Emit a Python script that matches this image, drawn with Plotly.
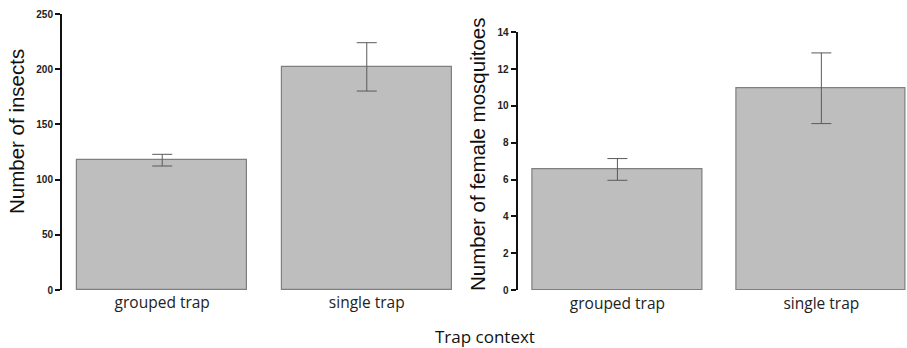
import plotly.graph_objects as go

categories = ["grouped trap", "single trap"]
insects_mean = [117.5, 202.0]
insects_err_plus = [5.4, 22.0]
insects_err_minus = [5.2, 21.8]
mosq_mean = [6.56, 10.94]
mosq_err_plus = [0.58, 1.94]
mosq_err_minus = [0.60, 1.90]
left_yticks = [0, 50, 100, 150, 200, 250]
right_yticks = [0, 2, 4, 6, 8, 10, 12, 14]

W, H = 907, 348
bar_fill = "#bebebe"
bar_line = "#7f7f7f"
err_col = "#5a5a5a"

fig = go.Figure()
fig.add_trace(go.Bar(
    x=[0, 1], y=insects_mean, width=0.83,
    marker=dict(color=bar_fill, line=dict(color=bar_line, width=1.2)),
    error_y=dict(type="data", array=insects_err_plus, arrayminus=insects_err_minus,
                 color=err_col, thickness=1, width=10),
    xaxis="x", yaxis="y", showlegend=False))
fig.add_trace(go.Bar(
    x=[0, 1], y=mosq_mean, width=0.83,
    marker=dict(color=bar_fill, line=dict(color=bar_line, width=1.2)),
    error_y=dict(type="data", array=mosq_err_plus, arrayminus=mosq_err_minus,
                 color=err_col, thickness=1, width=10),
    xaxis="x2", yaxis="y2", showlegend=False))

tickfont = dict(family="Liberation Sans", size=10, color="#222", weight="bold")
xfont = dict(family="Open Sans", size=15.5, color="#222")

fig.update_layout(
    template="none",
    width=W, height=H,
    margin=dict(l=0, r=0, t=0, b=0),
    paper_bgcolor="white", plot_bgcolor="white",
    bargap=0,
    xaxis=dict(domain=[62 / W, 467 / W], range=[-0.49, 1.49], automargin=False,
               tickvals=[0, 1], ticktext=categories, tickfont=xfont,
               showline=False, showgrid=False, zeroline=False, ticks="",
               ticklabelstandoff=1, anchor="y"),
    yaxis=dict(domain=[(H - 290) / H, (H - 14) / H], range=[0, 250], automargin=False,
               tickvals=left_yticks, tickfont=tickfont,
               showline=True, linecolor="#111", linewidth=2,
               ticks="outside", ticklen=5, tickwidth=1.5, tickcolor="#111",
               showgrid=False, zeroline=False, anchor="x"),
    xaxis2=dict(domain=[517.5 / W, 1.0], range=[-0.49, 1.42], automargin=False,
                tickvals=[0, 1], ticktext=categories, tickfont=xfont,
                showline=False, showgrid=False, zeroline=False, ticks="",
                ticklabelstandoff=2, anchor="y2"),
    yaxis2=dict(domain=[(H - 290) / H, (H - 32.3) / H], range=[0, 14], automargin=False,
                tickvals=right_yticks, tickfont=tickfont,
                showline=True, linecolor="#111", linewidth=2,
                ticks="outside", ticklen=5, tickwidth=1.5, tickcolor="#111",
                showgrid=False, zeroline=False, anchor="x2"),
    annotations=[
        dict(text="Number of insects", x=16 / W, y=(H - 132) / H,
             xref="paper", yref="paper", textangle=-90, showarrow=False,
             xanchor="center", yanchor="middle",
             font=dict(family="Liberation Sans", size=20.5, color="#111")),
        dict(text="Number of female mosquitoes", x=477 / W, y=(H - 155) / H,
             xref="paper", yref="paper", textangle=-90, showarrow=False,
             xanchor="center", yanchor="middle",
             font=dict(family="Liberation Sans", size=20.5, color="#111")),
        dict(text="Trap context", x=485.5 / W, y=(H - 336) / H,
             xref="paper", yref="paper", showarrow=False,
             xanchor="center", yanchor="middle",
             font=dict(family="Open Sans", size=17, color="#111")),
    ],
)

fig.write_html(
    "out.html",
    config={"displayModeBar": False},
    post_script="document.body.style.margin='0';document.body.style.overflow='hidden';",
)
